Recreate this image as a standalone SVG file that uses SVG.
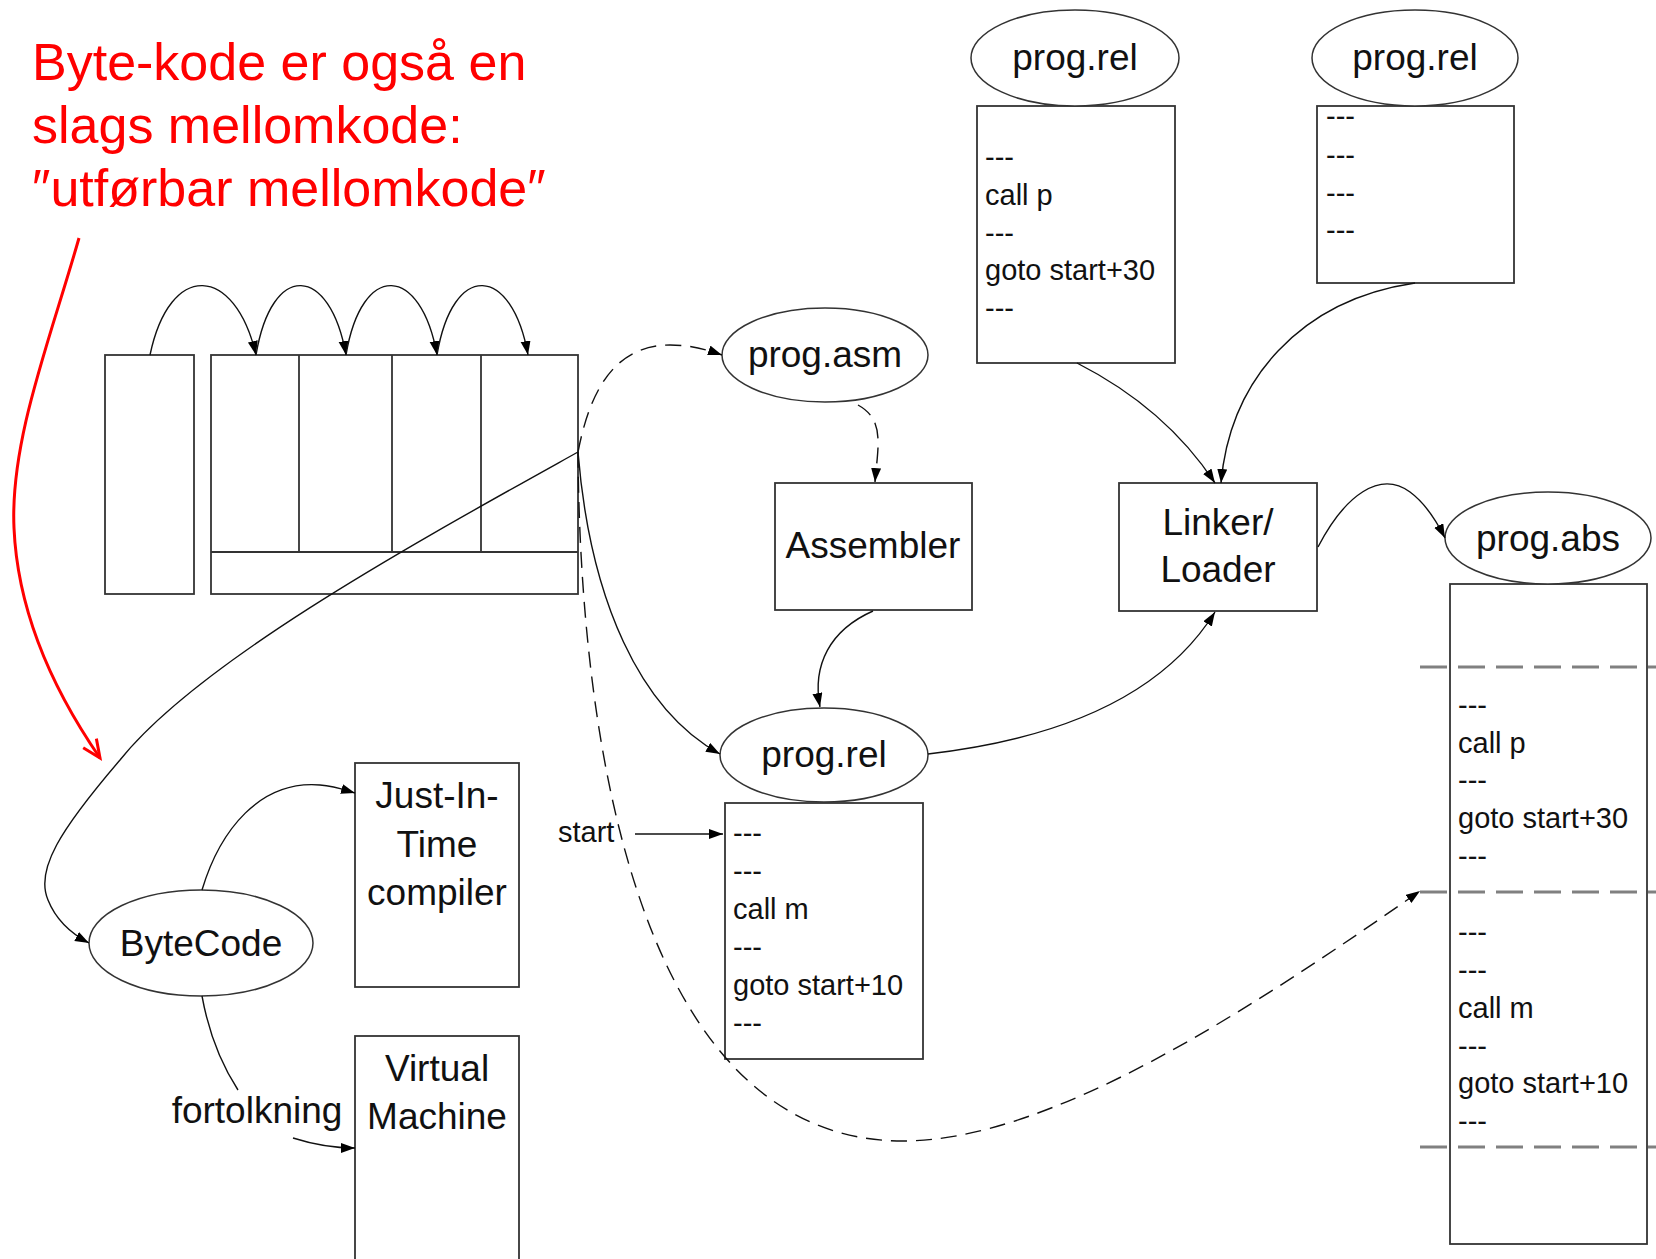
<svg xmlns="http://www.w3.org/2000/svg" width="1656" height="1259" viewBox="0 0 1656 1259">
<style>
.box{fill:#fff;stroke:#333;stroke-width:1.8}
.ell{fill:#fff;stroke:#333;stroke-width:1.5}
.lbl{font-family:"Liberation Sans",Arial,sans-serif;font-size:37px;fill:#111;text-anchor:middle}
.code{font-family:"Liberation Sans",Arial,sans-serif;font-size:29px;fill:#111}
.red{font-family:"Liberation Sans",Arial,sans-serif;font-size:52px;fill:#f00}
.c{fill:none;stroke:#111;stroke-width:1.4}
.d{stroke-dasharray:16 9}
.g{fill:none;stroke:#808080;stroke-width:3;stroke-dasharray:27 11}
</style>
<defs>
<marker id="ah" markerUnits="userSpaceOnUse" markerWidth="16" markerHeight="12" refX="14" refY="5" orient="auto"><path d="M0,0 L14,5 L0,10 z" fill="#000"/></marker>
<marker id="ra" markerUnits="userSpaceOnUse" markerWidth="24" markerHeight="24" refX="20" refY="10" orient="auto"><path d="M2,2 L20,10 L2,18" fill="none" stroke="#f00" stroke-width="3"/></marker>
</defs>
<rect width="1656" height="1259" fill="#fff"/>

<g id="note">
<text class="red" x="32" y="80">Byte-kode er også en</text>
<text class="red" x="32" y="143">slags mellomkode:</text>
<text class="red" x="32" y="206">″utførbar mellomkode″</text>
</g>

<g id="stack-left"><rect class="box" x="105" y="355" width="89" height="239"/></g>
<g id="stack-main">
<rect class="box" x="211" y="355" width="367" height="239"/>
<path class="box" d="M299,355V552M392,355V552M481,355V552M211,552H578" fill="none"/>
</g>

<g id="prog-asm"><ellipse class="ell" cx="825" cy="355" rx="103" ry="47"/><text class="lbl" x="825" y="367">prog.asm</text></g>
<g id="assembler"><rect class="box" x="775" y="483" width="197" height="127"/><text class="lbl" x="873" y="558">Assembler</text></g>

<g id="prog-rel-mid">
<rect class="box" x="725" y="803" width="198" height="256"/>
<ellipse class="ell" cx="824" cy="755" rx="104" ry="47"/><text class="lbl" x="824" y="767">prog.rel</text>
<text class="code" x="733" y="843">---</text>
<text class="code" x="733" y="881">---</text>
<text class="code" x="733" y="919">call m</text>
<text class="code" x="733" y="957">---</text>
<text class="code" x="733" y="995">goto start+10</text>
<text class="code" x="733" y="1033">---</text>
</g>
<g id="start-label"><text class="code" x="558" y="842">start</text></g>

<g id="prog-rel-a">
<rect class="box" x="977" y="106" width="198" height="257"/>
<ellipse class="ell" cx="1075" cy="58" rx="104" ry="48"/><text class="lbl" x="1075" y="70">prog.rel</text>
<text class="code" x="985" y="167">---</text>
<text class="code" x="985" y="205">call p</text>
<text class="code" x="985" y="243">---</text>
<text class="code" x="985" y="280">goto start+30</text>
<text class="code" x="985" y="318">---</text>
</g>

<g id="prog-rel-b">
<rect class="box" x="1317" y="106" width="197" height="177"/>
<ellipse class="ell" cx="1415" cy="58" rx="103" ry="48"/><text class="lbl" x="1415" y="70">prog.rel</text>
<text class="code" x="1326" y="126">---</text>
<text class="code" x="1326" y="165">---</text>
<text class="code" x="1326" y="203">---</text>
<text class="code" x="1326" y="240">---</text>
</g>

<g id="linker"><rect class="box" x="1119" y="483" width="198" height="128"/>
<text class="lbl" x="1218" y="535">Linker/</text><text class="lbl" x="1218" y="582">Loader</text></g>

<g id="prog-abs">
<rect class="box" x="1450" y="584" width="197" height="660"/>
<ellipse class="ell" cx="1548" cy="538" rx="103" ry="46"/><text class="lbl" x="1548" y="551">prog.abs</text>
<path class="g" d="M1420,667H1656M1420,892H1656M1420,1147H1656"/>
<text class="code" x="1458" y="715">---</text>
<text class="code" x="1458" y="753">call p</text>
<text class="code" x="1458" y="790">---</text>
<text class="code" x="1458" y="828">goto start+30</text>
<text class="code" x="1458" y="866">---</text>
<text class="code" x="1458" y="942">---</text>
<text class="code" x="1458" y="980">---</text>
<text class="code" x="1458" y="1018">call m</text>
<text class="code" x="1458" y="1056">---</text>
<text class="code" x="1458" y="1093">goto start+10</text>
<text class="code" x="1458" y="1131">---</text>
</g>

<g id="bytecode"><ellipse class="ell" cx="201" cy="943" rx="112" ry="53"/><text class="lbl" x="201" y="956">ByteCode</text></g>
<g id="jit"><rect class="box" x="355" y="763" width="164" height="224"/>
<text class="lbl" x="437" y="808">Just-In-</text><text class="lbl" x="437" y="857">Time</text><text class="lbl" x="437" y="905">compiler</text></g>
<g id="vm"><rect class="box" x="355" y="1036" width="164" height="240"/>
<text class="lbl" x="437" y="1081">Virtual</text><text class="lbl" x="437" y="1129">Machine</text></g>
<g id="fortolkning-label"><text class="lbl" x="257" y="1123">fortolkning</text></g>

<g id="connectors">
<path class="c" marker-end="url(#ah)" d="M150,355 C170,260 235,265 256,355"/>
<path class="c" marker-end="url(#ah)" d="M256,355 C272,260 330,265 346,355"/>
<path class="c" marker-end="url(#ah)" d="M346,355 C362,260 421,265 437,355"/>
<path class="c" marker-end="url(#ah)" d="M437,355 C453,260 512,265 528,355"/>
<path class="c d" marker-end="url(#ah)" d="M578,452 C590,390 615,345 670,345 C690,345 705,349 722,355"/>
<path class="c d" marker-end="url(#ah)" d="M858,405 C885,420 878,445 875,482"/>
<path class="c" marker-end="url(#ah)" d="M873,611 C830,630 812,665 820,707"/>
<path class="c" marker-end="url(#ah)" d="M578,452 C590,600 640,710 720,754"/>
<path class="c" marker-end="url(#ah)" d="M578,452 C420,540 200,660 120,760 C60,830 35,870 48,900 C56,920 70,933 89,943"/>
<path class="c d" marker-end="url(#ah)" d="M578,452 C580,760 645,1141 903,1141 C1050,1141 1250,1010 1420,891"/>
<path class="c" marker-end="url(#ah)" d="M928,754 C1050,740 1160,700 1215,612"/>
<path class="c" marker-end="url(#ah)" d="M1077,363 C1130,390 1180,430 1215,483"/>
<path class="c" marker-end="url(#ah)" d="M1415,283 C1300,300 1230,380 1221,483"/>
<path class="c" marker-end="url(#ah)" d="M1318,547 C1345,495 1380,470 1410,492 C1425,503 1436,520 1445,538"/>
<path class="c" marker-end="url(#ah)" d="M635,834 H723"/>
<path class="c" marker-end="url(#ah)" d="M202,890 C220,830 260,780 320,785 C335,786 345,790 355,793"/>
<path class="c" d="M202,996 C210,1040 225,1070 238,1090"/>
<path class="c" marker-end="url(#ah)" d="M293,1138 C315,1145 335,1148 355,1148"/>
<path fill="none" stroke="#f00" stroke-width="3" marker-end="url(#ra)" d="M79,238 C50,340 10,440 14,528 C18,620 60,700 100,758"/>
</g>
</svg>
